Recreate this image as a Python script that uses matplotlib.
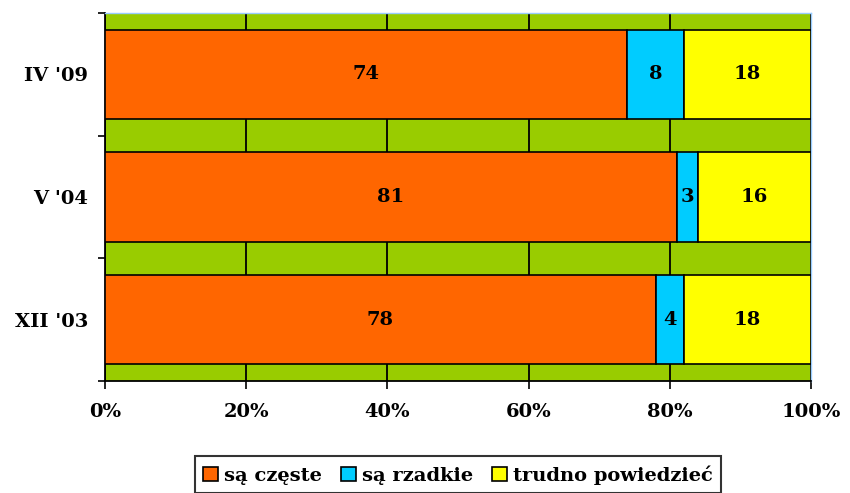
import matplotlib.pyplot as plt
import numpy as np
from matplotlib.ticker import FixedLocator, PercentFormatter

plt.rcParams["font.family"] = ["DejaVu Serif"]
plt.rcParams["font.weight"] = "bold"

categories = ["XII '03", "V '04", "IV '09"]
czeste = [78, 81, 74]
rzadkie = [4, 3, 8]
trudno = [18, 16, 18]
series_names = ["są częste", "są rzadkie", "trudno powiedzieć"]
colors = ["#FF6600", "#00CCFF", "#FFFF00"]

fs = 14

fig = plt.figure(figsize=(8.5, 4.93), dpi=100)
ax = fig.add_axes([0.1235, 0.2272, 0.8306, 0.7464])
ax.set_facecolor("#99CC00")

y = np.arange(len(categories))
left = np.zeros(len(categories))
for vals, name, col in zip([czeste, rzadkie, trudno], series_names, colors):
    bars = ax.barh(y, vals, left=left, height=0.73, color=col,
                   edgecolor="black", linewidth=1.2, label=name, zorder=3)
    for b, v in zip(bars, vals):
        ax.text(b.get_x() + b.get_width() / 2, b.get_y() + b.get_height() / 2,
                str(v), ha="center", va="center", fontsize=fs,
                fontweight="bold", zorder=4)
    left += np.array(vals)

ax.set_xlim(0, 100)
ax.set_ylim(-0.5, 2.5)
ax.xaxis.set_major_locator(FixedLocator([0, 20, 40, 60, 80, 100]))
ax.xaxis.set_major_formatter(PercentFormatter(decimals=0))
ax.grid(axis="x", color="black", linewidth=1.3, zorder=1)
ax.set_axisbelow(True)

ax.set_yticks(y)
ax.set_yticklabels(categories)
ax.yaxis.set_minor_locator(FixedLocator([-0.5, 0.5, 1.5, 2.5]))
ax.tick_params(axis="y", which="major", length=0, pad=12, labelsize=fs)
ax.tick_params(axis="y", which="minor", length=5, width=1.2, direction="out")
ax.tick_params(axis="x", which="major", length=6, width=1.2, direction="out",
               pad=10, labelsize=fs)

for s in ["left", "bottom"]:
    ax.spines[s].set_color("black")
    ax.spines[s].set_linewidth(1.3)
for s in ["top", "right"]:
    ax.spines[s].set_color("#99CCFF")
    ax.spines[s].set_linewidth(1.0)

leg = ax.legend(loc="upper center", bbox_to_anchor=(0.5, -0.205), ncol=3,
                frameon=True, fancybox=False, edgecolor="black",
                fontsize=fs, handlelength=0.75, handleheight=0.75,
                handletextpad=0.3, columnspacing=1.0, borderpad=0.45,
                borderaxespad=0)
leg.get_frame().set_linewidth(1.5)

fig.savefig("out.png", dpi=100)
